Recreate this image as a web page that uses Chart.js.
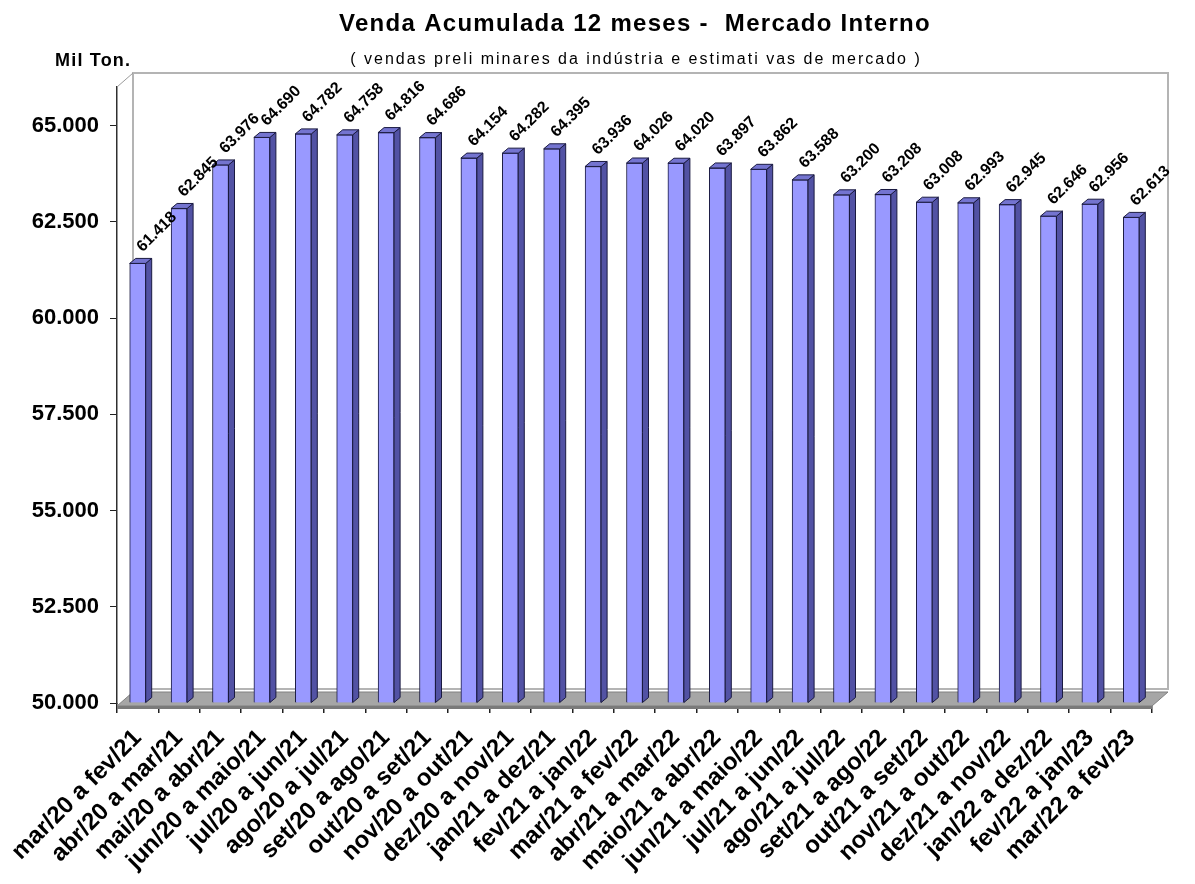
<!DOCTYPE html>
<html>
<head>
<meta charset="utf-8">
<script src="https://cdn.jsdelivr.net/npm/chart.js@4.4.1/dist/chart.umd.min.js"></script>
<style>
html,body{margin:0;padding:0;background:#fff;}
#wrap{position:relative;width:1195px;height:884px;}
</style>
</head>
<body>
<div id="wrap"><canvas id="c" width="1195" height="884"></canvas></div>
<script>
const categories = ["mar/20 a fev/21","abr/20 a mar/21","mai/20 a abr/21","jun/20 a maio/21","jul/20 a jun/21","ago/20 a jul/21","set/20 a ago/21","out/20 a set/21","nov/20 a out/21","dez/20 a nov/21","jan/21 a dez/21","fev/21 a jan/22","mar/21 a fev/22","abr/21 a mar/22","maio/21 a abr/22","jun/21 a maio/22","jul/21 a jun/22","ago/21 a jul/22","set/21 a ago/22","out/21 a set/22","nov/21 a out/22","dez/21 a nov/22","jan/22 a dez/22","fev/22 a jan/23","mar/22 a fev/23"];
const values = [61418,62845,63976,64690,64782,64758,64816,64686,64154,64282,64395,63936,64026,64020,63897,63862,63588,63200,63208,63008,62993,62945,62646,62956,62613];
const yTicks = [50000,52500,55000,57500,60000,62500,65000];
const titleText = "Venda Acumulada 12 meses -  Mercado Interno";
const subtitleText = "( vendas preli minares da indústria e estimati vas de mercado )";
const unitText = "Mil Ton.";

function fmt(v){
  const s = String(Math.round(v));
  return s.replace(/\B(?=(\d{3})+(?!\d))/g, ".");
}

const DX = 16, DY = 14;   // 3D depth of walls
const BDX = 6, BDY = 5;   // 3D depth of bars

const wallsPlugin = {
  id: 'walls',
  beforeDatasetsDraw(chart){
    const {ctx, chartArea:a} = chart;
    ctx.save();
    ctx.fillStyle = '#ffffff';
    ctx.strokeStyle = '#b4b4b4';
    ctx.lineWidth = 2;
    ctx.beginPath();
    ctx.rect(a.left+DX, a.top-DY, a.right-a.left, a.bottom-a.top);
    ctx.fill(); ctx.stroke();
    ctx.lineWidth = 1;
    ctx.strokeStyle = '#9a9a9a';
    ctx.beginPath();
    ctx.moveTo(a.left, a.top); ctx.lineTo(a.left+DX, a.top-DY);
    ctx.stroke();
    // floor
    ctx.fillStyle = '#a6a6a6';
    ctx.beginPath();
    ctx.moveTo(a.left, a.bottom+3);
    ctx.lineTo(a.left+DX, a.bottom+3-DY);
    ctx.lineTo(a.right+DX, a.bottom+3-DY);
    ctx.lineTo(a.right, a.bottom+3);
    ctx.closePath();
    ctx.fill();
    ctx.strokeStyle = '#808080';
    ctx.stroke();
    ctx.fillStyle = '#7a7a7a';
    ctx.fillRect(a.left, a.bottom+3, a.right-a.left, 3);
    ctx.restore();
  },
  afterDatasetsDraw(chart){
    const {ctx, chartArea:a} = chart;
    const meta = chart.getDatasetMeta(0);
    ctx.save();
    meta.data.forEach((el) => {
      const w = el.width, l = el.x - w/2, r = el.x + w/2, t = el.y, b = Math.min(el.base, a.bottom);
      ctx.lineWidth = 1;
      ctx.strokeStyle = '#1a1a40';
      ctx.fillStyle = '#5252a4';
      ctx.beginPath();
      ctx.moveTo(r, t); ctx.lineTo(r+BDX, t-BDY); ctx.lineTo(r+BDX, b-BDY); ctx.lineTo(r, b);
      ctx.closePath(); ctx.fill(); ctx.stroke();
      ctx.fillStyle = '#7474d0';
      ctx.beginPath();
      ctx.moveTo(l, t); ctx.lineTo(l+BDX, t-BDY); ctx.lineTo(r+BDX, t-BDY); ctx.lineTo(r, t);
      ctx.closePath(); ctx.fill(); ctx.stroke();
    });
    ctx.fillStyle = '#000';
    ctx.font = 'bold 16px "Liberation Sans", Arial, sans-serif';
    ctx.textAlign = 'left';
    ctx.textBaseline = 'alphabetic';
    meta.data.forEach((el, i) => {
      ctx.save();
      ctx.translate(el.x + 5, el.y - 11);
      ctx.rotate(-Math.PI/4);
      ctx.fillText(fmt(values[i]), 0, 0);
      ctx.restore();
    });
    ctx.restore();
  },
  afterDraw(chart){
    const {ctx} = chart;
    ctx.save();
    ctx.fillStyle = '#000';
    ctx.textAlign = 'center';
    ctx.textBaseline = 'alphabetic';
    ctx.font = 'bold 24px "Liberation Sans", Arial, sans-serif';
    ctx.letterSpacing = '1.3px';
    ctx.fillText(titleText, 635, 31);
    ctx.font = '16px "Liberation Sans", Arial, sans-serif';
    ctx.letterSpacing = '2px';
    ctx.fillText(subtitleText, 636, 64);
    ctx.textAlign = 'left';
    ctx.font = 'bold 18px "Liberation Sans", Arial, sans-serif';
    ctx.letterSpacing = '1.2px';
    ctx.fillText(unitText, 55, 66);
    ctx.restore();
  }
};

new Chart(document.getElementById('c'), {
  type: 'bar',
  data: {
    labels: categories,
    datasets: [{
      data: values,
      base: 50000,
      backgroundColor: '#9999ff',
      borderColor: '#1a1a40',
      borderWidth: 1,
      barThickness: 16
    }]
  },
  options: {
    responsive: false,
    animation: false,
    devicePixelRatio: 1,
    layout: { padding: { left: 0, right: 43, top: 87, bottom: 0 } },
    plugins: { legend: { display: false }, tooltip: { enabled: false }, title: { display: false } },
    scales: {
      x: {
        afterFit(s){ s.height = 884 - 703; },
        grid: { display: true, drawOnChartArea: false, drawTicks: true, tickLength: 10, offset: true, color: '#202020', lineWidth: 1.5 },
        border: { display: false },
        ticks: {
          autoSkip: false, maxRotation: 45, minRotation: 45, padding: 11,
          color: '#000',
          font: { family: '"Liberation Sans", Arial, sans-serif', size: 24, weight: 'bold' }
        }
      },
      y: {
        min: 50000, max: 66000,
        afterFit(s){ s.width = 117; },
        afterBuildTicks(s){ s.ticks = yTicks.map(v => ({ value: v })); },
        grid: { display: true, drawOnChartArea: false, drawTicks: true, tickLength: 7, color: '#202020' },
        border: { display: true, color: '#303030', width: 1.5 },
        ticks: {
          padding: 11, color: '#000',
          font: { family: '"Liberation Sans", Arial, sans-serif', size: 22, weight: 'bold' },
          callback: (v) => fmt(v)
        }
      }
    }
  },
  plugins: [wallsPlugin]
});
</script>
</body>
</html>
